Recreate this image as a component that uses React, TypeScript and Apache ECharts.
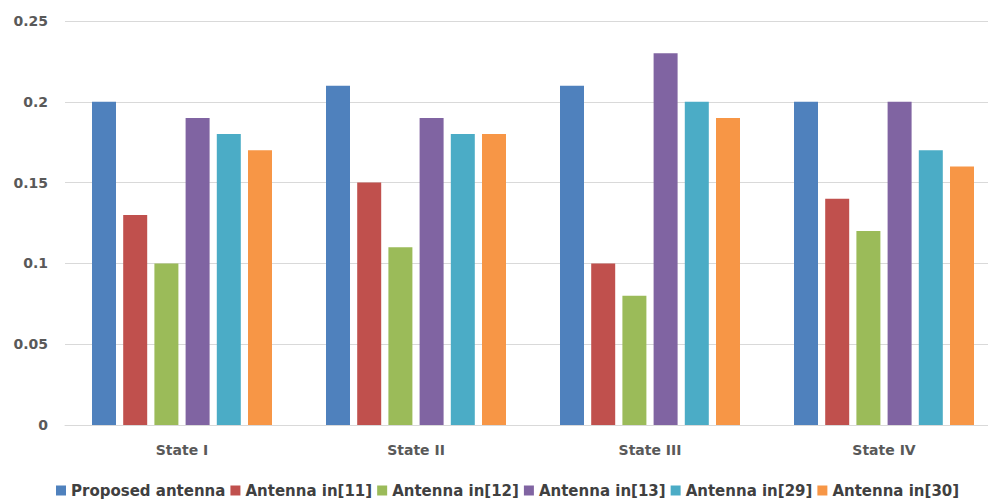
import React, { useEffect, useRef } from "react";
import * as echarts from "echarts";

const categories = ["State I", "State II", "State III", "State IV"];
const seriesNames = [
  "Proposed antenna",
  "Antenna in[11]",
  "Antenna in[12]",
  "Antenna in[13]",
  "Antenna in[29]",
  "Antenna in[30]",
];
const proposed = [0.2, 0.21, 0.21, 0.2];
const ant11 = [0.13, 0.15, 0.1, 0.14];
const ant12 = [0.1, 0.11, 0.08, 0.12];
const ant13 = [0.19, 0.19, 0.23, 0.2];
const ant29 = [0.18, 0.18, 0.2, 0.17];
const ant30 = [0.17, 0.18, 0.19, 0.16];
const colors = ["#4F81BD", "#C0504D", "#9BBB59", "#8064A2", "#4BACC6", "#F79646"];

export default function App() {
  const ref = useRef<HTMLDivElement>(null);
  useEffect(() => {
    if (!ref.current) return;
    const chart = echarts.init(ref.current, undefined, { renderer: "svg" });
    const data = [proposed, ant11, ant12, ant13, ant29, ant30];
    chart.setOption({
      animation: false,
      color: colors,
      textStyle: { fontFamily: "DejaVu Sans" },
      grid: { left: 65, width: 936, top: 21, bottom: 75, outerBoundsMode: "none", containLabel: false },
      legend: {
        top: 483,
        left: 56,
        padding: 0,
        itemWidth: 10,
        itemHeight: 10,
        itemGap: 5,
        icon: "rect",
        textStyle: { fontSize: 15, color: "#404040", fontWeight: "bold", fontFamily: "DejaVu Sans" },
        data: seriesNames,
      },
      xAxis: {
        type: "category",
        data: categories,
        axisTick: { show: false },
        axisLine: { lineStyle: { color: "#D9D9D9" } },
        axisLabel: { color: "#595959", fontSize: 14, fontWeight: "bold", margin: 18 },
      },
      yAxis: {
        type: "value",
        min: 0,
        max: 0.25,
        interval: 0.05,
        axisLine: { show: false },
        splitLine: { lineStyle: { color: "#D9D9D9" } },
        axisLabel: { color: "#595959", fontSize: 14, fontWeight: "bold", margin: 17 },
      },
      series: seriesNames.map((name, i) => ({
        name,
        type: "bar",
        data: data[i],
        barWidth: 24,
        barGap: "30%",
      })),
    });
    return () => chart.dispose();
  }, []);
  return (
    <div
      ref={ref}
      style={{ position: "absolute", left: 0, top: 0, width: 988, height: 500, background: "#fff" }}
    />
  );
}
